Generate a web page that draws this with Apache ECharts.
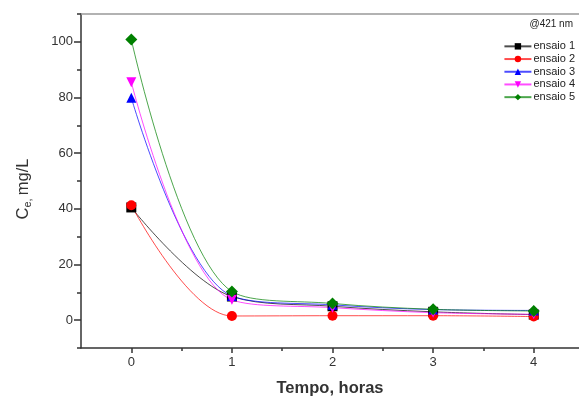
<!DOCTYPE html>
<html>
<head>
<meta charset="utf-8">
<script src="https://cdn.jsdelivr.net/npm/echarts@6/dist/echarts.min.js"></script>
<style>
  html, body { margin: 0; padding: 0; background: #fff; }
  #chart { width: 579px; height: 397px; }
</style>
</head>
<body>
<div id="chart"></div>
<script>
// horas
const tempo = [0, 1, 2, 3, 4];
const ensaio1 = [40.5, 8.5, 5.0, 3.0, 2.0];
const ensaio2 = [41.3, 1.5, 1.6, 1.6, 1.3];
const ensaio3 = [79.9, 8.7, 5.5, 3.8, 3.5];
const ensaio4 = [85.5, 7.3, 4.5, 2.7, 2.1];
const ensaio5 = [100.8, 10.3, 6.0, 3.9, 3.3];
const xTicks = [0, 1, 2, 3, 4];
const xMinor = [0.5, 1.5, 2.5, 3.5];
const yTicks = [0, 20, 40, 60, 80, 100];
const yMinor = [-10, 10, 30, 50, 70, 90, 110];

const chart = echarts.init(document.getElementById('chart'));
const font = 'Liberation Sans, Arial, sans-serif';
const axisColor = '#333';

const mk = (name, vals, color, symbol, rotate) => ({
  name, type: 'line', data: tempo.map((t, i) => [t, vals[i]]),
  smooth: 0.35, symbol, symbolSize: symbol === 'diamond' ? 12 : 10, symbolRotate: rotate || 0,
  lineStyle: { width: 1, color, opacity: 0.7 },
  itemStyle: { color },
  xAxisIndex: 0, yAxisIndex: 0
});

chart.setOption({
  animation: false,
  backgroundColor: '#fff',
  textStyle: { fontFamily: font },
  title: {
    text: '@421 nm', right: 1, top: 14,
    textStyle: { fontSize: 10, fontWeight: 'normal', color: '#222', fontFamily: font }
  },
  legend: {
    orient: 'vertical', right: 4, top: 40, itemGap: 0, padding: 0,
    itemWidth: 27, itemHeight: 8,
    textStyle: { fontSize: 11, lineHeight: 12.7, height: 12.7, color: '#222', fontFamily: font, padding: [0, 0, 0, -3] },
    data: ['ensaio 1', 'ensaio 2', 'ensaio 3', 'ensaio 4', 'ensaio 5']
  },
  grid: { left: 81, right: 0, top: 14, bottom: 49, outerBoundsMode: 'none' },
  xAxis: [
    {
      type: 'value', min: -0.5, max: 4.45, position: 'bottom',
      name: 'Tempo, horas', nameLocation: 'middle', nameGap: 32,
      nameTextStyle: { fontSize: 16.5, fontWeight: 'bold', color: '#333', fontFamily: font },
      axisLine: { onZero: false, lineStyle: { color: axisColor, width: 1.5 } },
      axisTick: { customValues: xTicks, length: 5, inside: false, lineStyle: { color: axisColor, width: 1.5 } },
      axisLabel: { customValues: xTicks, fontSize: 13, color: '#333', margin: 8 },
      splitLine: { show: false }
    },
    {
      type: 'value', min: -0.5, max: 4.45, position: 'bottom', offset: 0,
      axisLine: { show: false, onZero: false },
      axisTick: { customValues: xMinor, length: 3, lineStyle: { color: axisColor, width: 1.5 } },
      axisLabel: { show: false },
      splitLine: { show: false }
    },
    {
      type: 'value', min: -0.5, max: 4.45, position: 'top',
      axisLine: { onZero: false, lineStyle: { color: '#999', width: 1.5 } },
      axisTick: { show: false }, axisLabel: { show: false }, splitLine: { show: false }
    }
  ],
  yAxis: [
    {
      type: 'value', min: -10, max: 110, position: 'left',
      name: '{c|C}{s|e, }{c|mg/L}', nameLocation: 'middle', nameGap: 48, nameRotate: 90,
      nameTextStyle: {
        padding: [0, 16, 0, 0],
        rich: {
          c: { fontSize: 16.5, color: '#333', fontFamily: font },
          s: { fontSize: 11, color: '#333', fontFamily: font, verticalAlign: 'bottom', padding: [9, 0, 0, 0] }
        }
      },
      axisLine: { show: true, onZero: false, lineStyle: { color: axisColor, width: 1.5 } },
      axisTick: { show: true, customValues: yTicks, length: 7, lineStyle: { color: axisColor, width: 1.5 } },
      axisLabel: { customValues: yTicks, fontSize: 13, color: '#333', margin: 8 },
      splitLine: { show: false }
    },
    {
      type: 'value', min: -10, max: 110, position: 'left', offset: 0,
      axisLine: { show: false, onZero: false },
      axisTick: { show: true, customValues: yMinor, length: 4, lineStyle: { color: axisColor, width: 1.5 } },
      axisLabel: { show: false },
      splitLine: { show: false }
    }
  ],
  series: [
    mk('ensaio 1', ensaio1, '#000000', 'rect'),
    mk('ensaio 2', ensaio2, '#ff0000', 'circle'),
    mk('ensaio 3', ensaio3, '#0000ff', 'triangle'),
    mk('ensaio 4', ensaio4, '#ff00ff', 'triangle', 180),
    mk('ensaio 5', ensaio5, '#008000', 'diamond')
  ]
});
</script>
</body>
</html>
